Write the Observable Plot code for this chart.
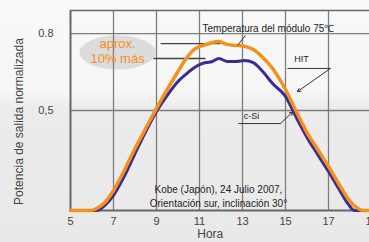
<!DOCTYPE html>
<html><head><meta charset="utf-8">
<script src="https://cdn.jsdelivr.net/npm/d3@7"></script>
<script src="https://cdn.jsdelivr.net/npm/@observablehq/plot@0.6"></script>
<style>
html,body{margin:0;padding:0;overflow:hidden;}
body{width:369px;height:242px;background:linear-gradient(to bottom,#f9f9f9 0%,#f6f6f6 38%,#ececec 44%,#e9e9e9 100%);}
#chart svg{display:block;overflow:hidden;}
</style></head><body><div id="chart"></div>
<script>
// HIT module (orange)
const hitHours  = [5, 5.9, 6.3, 6.6, 7, 7.5, 8, 8.5, 9, 9.5, 10, 10.35, 10.7, 11, 11.3, 11.6, 11.9, 12.3, 12.7, 13.1, 13.5, 13.9, 14.4, 15, 15.5, 16, 16.5, 17, 17.5, 17.9, 18.3, 18.6, 19];
const hitValues = [0.110, 0.110, 0.122, 0.141, 0.188, 0.266, 0.352, 0.430, 0.508, 0.582, 0.652, 0.699, 0.734, 0.750, 0.757, 0.765, 0.769, 0.757, 0.754, 0.750, 0.738, 0.711, 0.664, 0.582, 0.496, 0.414, 0.348, 0.282, 0.211, 0.157, 0.122, 0.110, 0.110];
// c-Si module (blue)
const csiHours  = [5, 6.2, 6.6, 7, 7.5, 8, 8.5, 9, 9.5, 10, 10.35, 10.7, 11, 11.3, 11.6, 11.9, 12.3, 12.7, 13.1, 13.5, 13.9, 14.4, 15, 15.5, 16, 16.5, 17, 17.5, 17.9, 18.2, 19];
const csiValues = [0.110, 0.110, 0.130, 0.169, 0.243, 0.332, 0.418, 0.496, 0.559, 0.613, 0.640, 0.664, 0.679, 0.687, 0.691, 0.703, 0.691, 0.691, 0.695, 0.687, 0.656, 0.605, 0.555, 0.473, 0.395, 0.328, 0.262, 0.192, 0.137, 0.110, 0.110];

const xTicks = [5, 7, 9, 11, 13, 15, 17, 19];
const xGrid = [7, 9, 11, 13, 15, 17];
const yTicks = [0.5, 0.8];
const yTickLabels = ["0,5", "0.8"];
const xLabel = "Hora";
const yLabel = "Potencia de salida normalizada";

// annotations (in data units)
const noteApprox = {x: 7.19, y: 0.732, text: "aprox.\n10% más"};
const noteBlob = {x: 7.19, y: 0.726};
const levelLines = [
  {x1: 9.19, x2: 11.98, y: 0.761},
  {x1: 8.86, x2: 11.28, y: 0.703}
];
const noteTemp = {x: 11.14, y: 0.820, text: "Temperatura del módulo 75℃"};
const tempLeader = {x1: 13.14, y1: 0.793, x2: 12.77, y2: 0.754};
const noteHIT = {x: 15.74, y: 0.699, text: "HIT"};
const hitUnder = {x1: 15.09, x2: 17.09, y: 0.664};
const hitArrow = {x1: 17.09, y1: 0.664, x2: 15.56, y2: 0.574};
const noteCSi = {x: 13.42, y: 0.477, text: "c-Si"};
const csiUnder = {x1: 12.81, x2: 14.77, y: 0.449};
const csiArrow = {x1: 14.77, y1: 0.449, x2: 15.33, y2: 0.494};
const noteSite = {x: 11.88, y: 0.170, text: "Kobe (Japón), 24 Julio 2007,\nOrientación sur, inclinación 30°"};

const hit = hitHours.map((h, i) => ({h, v: hitValues[i]}));
const csi = csiHours.map((h, i) => ({h, v: csiValues[i]}));

const ellipse = {
  draw(ctx, size) {
    const rx = 38, ry = 17, k = 0.5523;
    ctx.moveTo(-rx, 0);
    ctx.bezierCurveTo(-rx, -ry * k, -rx * k, -ry, 0, -ry);
    ctx.bezierCurveTo(rx * k, -ry, rx, -ry * k, rx, 0);
    ctx.bezierCurveTo(rx, ry * k, rx * k, ry, 0, ry);
    ctx.bezierCurveTo(-rx * k, ry, -rx, ry * k, -rx, 0);
    ctx.closePath();
  }
};

const ORANGE = "#f5901a";
const BLUE = "#3a2c94";
const INK = "#333";
const GRID = "#7d7d7d";

const chart = Plot.plot({
  width: 369, height: 242,
  marginLeft: 70, marginRight: -2, marginTop: 10, marginBottom: 32,
  style: {background: "transparent", fontFamily: "Liberation Sans, Arial, sans-serif", fontSize: "11px", color: "#444"},
  x: {domain: [5, 19], ticks: xTicks, tickSize: 0, tickPadding: 7, label: null},
  y: {domain: [0.11, 0.89], ticks: yTicks, tickFormat: d => yTickLabels[yTicks.indexOf(d)], tickSize: 0, tickPadding: 17, label: null},
  marks: [
    Plot.dot([noteBlob], {x: "x", y: "y", symbol: ellipse, fill: "#dcdcdc", stroke: null, r: 5}),
    Plot.ruleX(xGrid, {stroke: GRID, strokeWidth: 1.3}),
    Plot.ruleY(yTicks, {stroke: GRID, strokeWidth: 1.3}),
    Plot.ruleY([0.89], {stroke: "#666", strokeWidth: 1.6}),
    Plot.ruleX([5], {stroke: "#666", strokeWidth: 2}),
    Plot.ruleY([0.11], {stroke: "#666", strokeWidth: 2}),
    Plot.link(levelLines, {x1: "x1", x2: "x2", y1: "y", y2: "y", stroke: "#444", strokeWidth: 1.4}),
    Plot.line(csi, {x: "h", y: "v", stroke: BLUE, strokeWidth: 3, curve: "monotone-x"}),
    Plot.line(hit, {x: "h", y: "v", stroke: ORANGE, strokeWidth: 3.5, curve: "monotone-x"}),
    Plot.text([noteApprox], {x: "x", y: "y", text: "text", fill: ORANGE, fontSize: 13, lineHeight: 1.15}),
    Plot.text([noteTemp], {x: "x", y: "y", text: "text", fill: "#222", fontSize: 10, textAnchor: "start"}),
    Plot.link([tempLeader], {x1: "x1", y1: "y1", x2: "x2", y2: "y2", stroke: INK, strokeWidth: 1}),
    Plot.text([noteHIT], {x: "x", y: "y", text: "text", fill: "#222", fontSize: 9}),
    Plot.link([hitUnder], {x1: "x1", x2: "x2", y1: "y", y2: "y", stroke: INK, strokeWidth: 1}),
    Plot.arrow([hitArrow], {x1: "x1", y1: "y1", x2: "x2", y2: "y2", stroke: INK, strokeWidth: 1, headLength: 5}),
    Plot.text([noteCSi], {x: "x", y: "y", text: "text", fill: "#222", fontSize: 9}),
    Plot.link([csiUnder], {x1: "x1", x2: "x2", y1: "y", y2: "y", stroke: INK, strokeWidth: 1}),
    Plot.arrow([csiArrow], {x1: "x1", y1: "y1", x2: "x2", y2: "y2", stroke: INK, strokeWidth: 1, headLength: 5}),
    Plot.text([noteSite], {x: "x", y: "y", text: "text", fill: "#222", fontSize: 10, lineHeight: 1.45}),
    Plot.text([xLabel], {x: () => 11.5, frameAnchor: "bottom", dy: 27, fill: "#444", fontSize: 12}),
    Plot.text([yLabel], {frameAnchor: "left", textAnchor: "middle", dx: -51, dy: 11, rotate: -90, fill: "#444", fontSize: 12})
  ]
});
document.getElementById("chart").appendChild(chart);
</script>
</body></html>
